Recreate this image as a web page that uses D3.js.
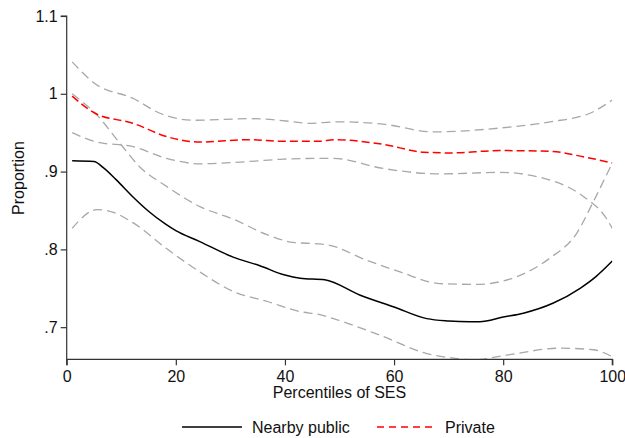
<!DOCTYPE html>
<html><head><meta charset="utf-8">
<script src="https://cdn.jsdelivr.net/npm/d3@7"></script>
<style>body{margin:0;background:#fff}svg{display:block}text{font-family:"Liberation Sans",Arial,sans-serif}</style>
</head><body><div id="chart"></div>
<script>
const xTicks = [0, 20, 40, 60, 80, 100];
const yTicks = [0.7, 0.8, 0.9, 1.0, 1.1];
const yTickLabels = [".7", ".8", ".9", "1", "1.1"];
const seriesNames = ["Nearby public", "Private"];

const publicX = [1, 5, 6.7, 9, 12.2, 15, 18, 20, 24.4, 30.5, 35.4, 40, 42.8, 47.3, 53.8, 60, 66, 70, 73.9, 75.7, 80, 83.7, 89.2, 94.1, 97, 100];
const publicY = [0.914, 0.913, 0.905, 0.89, 0.867, 0.849, 0.833, 0.824, 0.810, 0.790, 0.779, 0.767, 0.763, 0.761, 0.741, 0.726, 0.711, 0.708, 0.707, 0.707, 0.713, 0.718, 0.731, 0.750, 0.765, 0.785];

const privateX = [1, 5.2, 12.2, 18.3, 24.4, 33.6, 39.7, 46.4, 48.9, 58, 65.4, 70.3, 79.4, 88.6, 94.7, 100];
const privateY = [0.997, 0.975, 0.962, 0.945, 0.938, 0.941, 0.939, 0.939, 0.941, 0.935, 0.925, 0.924, 0.927, 0.926, 0.919, 0.911];

const privHiX = [1, 5.2, 12.2, 17.1, 23.2, 33.6, 42.8, 44, 50.1, 58, 67.2, 79.4, 88.6, 95.9, 100];
const privHiY = [1.041, 1.013, 0.994, 0.975, 0.966, 0.968, 0.963, 0.962, 0.964, 0.961, 0.951, 0.956, 0.964, 0.975, 0.992];

const privLoX = [1, 5.5, 12.2, 18.3, 24.4, 33.6, 39.7, 46.4, 48.9, 58, 68.4, 79.4, 88.6, 94.7, 98.9, 100];
const privLoY = [0.950, 0.938, 0.932, 0.917, 0.910, 0.913, 0.916, 0.917, 0.917, 0.904, 0.897, 0.899, 0.889, 0.868, 0.840, 0.827];

const pubHiX = [1, 5.5, 9.8, 13.4, 18.3, 24.4, 30.5, 36.7, 41.5, 46.4, 47.7, 55, 61.1, 68.4, 75.1, 82.5, 88.6, 93.5, 96.5, 100];
const pubHiY = [1.0, 0.973, 0.936, 0.906, 0.881, 0.855, 0.839, 0.819, 0.809, 0.807, 0.806, 0.786, 0.771, 0.756, 0.755, 0.765, 0.789, 0.821, 0.861, 0.911];

const pubLoX = [1, 5.5, 7.9, 12.2, 18.3, 24.4, 30.5, 36.8, 42.8, 46.4, 48.9, 58, 66, 70, 74.5, 80.6, 90.4, 96.5, 100];
const pubLoY = [0.827, 0.851, 0.849, 0.834, 0.801, 0.771, 0.746, 0.733, 0.720, 0.716, 0.711, 0.688, 0.666, 0.661, 0.658, 0.664, 0.673, 0.671, 0.662];

const W = 625, H = 438;
const m = {left: 66.7, right: 12.7, top: 16, bottom: 78.7};
const svg = d3.select("#chart").append("svg").attr("width", W).attr("height", H);

const x = d3.scaleLinear().domain([0, 100]).range([m.left, W - m.right]);
const y = d3.scaleLinear().domain([0.6587, 1.1]).range([H - m.bottom, m.top]);

svg.append("defs").append("clipPath").attr("id", "clip")
  .append("rect").attr("x", m.left).attr("y", m.top).attr("width", W - m.left - m.right).attr("height", H - m.top - m.bottom);

const line = d3.line().x(d => x(d[0])).y(d => y(d[1])).curve(d3.curveMonotoneX);
const zip = (a, b) => a.map((v, i) => [v, b[i]]);

const g = svg.append("g").attr("clip-path", "url(#clip)");
const gray = "#a8a8a8";
[[pubHiX, pubHiY], [pubLoX, pubLoY], [privHiX, privHiY], [privLoX, privLoY]].forEach(([a, b]) => {
  g.append("path").attr("d", line(zip(a, b))).attr("fill", "none")
    .attr("stroke", gray).attr("stroke-width", 1.3).attr("stroke-dasharray", "9,5");
});
g.append("path").attr("d", line(zip(publicX, publicY))).attr("fill", "none")
  .attr("stroke", "#000").attr("stroke-width", 1.5);
g.append("path").attr("d", line(zip(privateX, privateY))).attr("fill", "none")
  .attr("stroke", "#f00").attr("stroke-width", 1.5).attr("stroke-dasharray", "8,4");

// axes
const FS = 16;
const xAxis = svg.append("g").attr("transform", `translate(0,${H - m.bottom})`)
  .call(d3.axisBottom(x).tickValues(xTicks).tickSize(6).tickPadding(5).tickFormat(d3.format("d")));
const yAxis = svg.append("g").attr("transform", `translate(${m.left},0)`)
  .call(d3.axisLeft(y).tickValues(yTicks).tickSize(6).tickPadding(3).tickFormat((d, i) => yTickLabels[i]));
[xAxis, yAxis].forEach(a => {
  a.select(".domain").attr("stroke", "#333").attr("stroke-width", 1.2);
  a.selectAll(".tick line").attr("stroke", "#333").attr("stroke-width", 1.2);
  a.selectAll("text").attr("font-size", FS).attr("fill", "#111").style("font-family", '"Liberation Sans",Arial,sans-serif');
});
yAxis.select(".domain").attr("d", `M-6,${y(1.1)}H0V${H - m.bottom}`);
xAxis.select(".domain").attr("d", `M${x(0)},6V0H${x(100)}V6`);

svg.append("text").attr("x", 339.5).attr("y", 398).attr("text-anchor", "middle")
  .attr("font-size", FS).attr("fill", "#111").text("Percentiles of SES");
svg.append("text").attr("transform", `translate(24,178) rotate(-90)`)
  .attr("text-anchor", "middle").attr("font-size", FS).attr("fill", "#111").text("Proportion");

// legend
const leg = svg.append("g");
leg.append("line").attr("x1", 182).attr("x2", 242).attr("y1", 427).attr("y2", 427).attr("stroke", "#000").attr("stroke-width", 1.5);
leg.append("text").attr("x", 252).attr("y", 432.5).attr("font-size", FS).attr("fill", "#111").text(seriesNames[0]);
leg.append("line").attr("x1", 377).attr("x2", 437).attr("y1", 427).attr("y2", 427).attr("stroke", "#f00").attr("stroke-width", 1.5).attr("stroke-dasharray", "7,5");
leg.append("text").attr("x", 445).attr("y", 432.5).attr("font-size", FS).attr("fill", "#111").text(seriesNames[1]);
</script></body></html>
